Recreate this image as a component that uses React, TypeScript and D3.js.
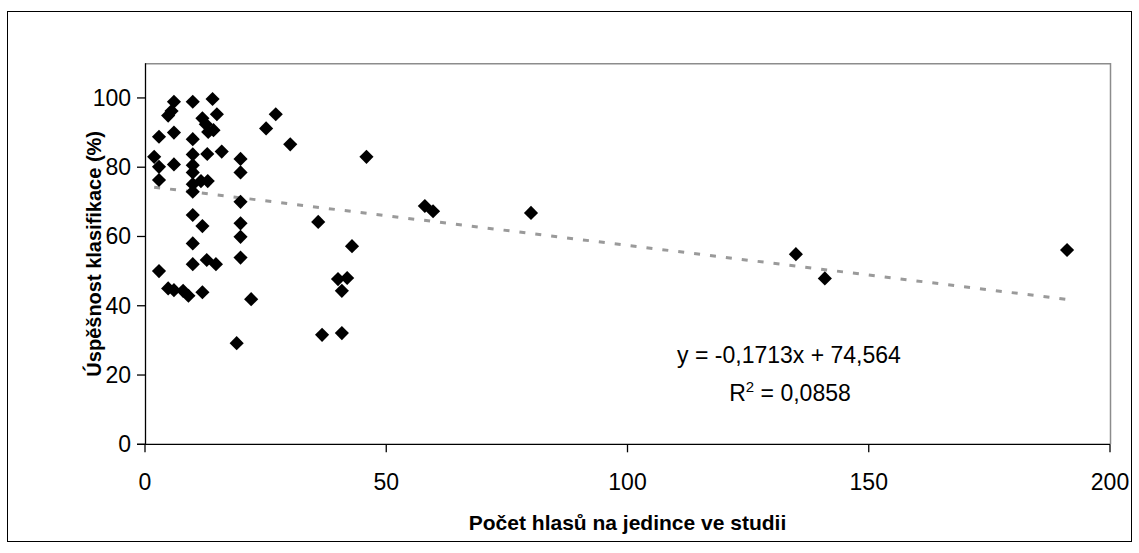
import React from "react";
import * as d3 from "d3";

// Number of calls per individual in each study (x) and classification success in % (y)
const callsPerIndividual: number[] = [
  6.0, 9.9, 14.0, 5.5, 4.8, 14.9, 11.9, 12.6, 13.1, 14.2,
  2.9, 6.0, 9.9, 25.1, 27.1, 30.1, 45.9, 12.9, 15.9, 9.9,
  1.9, 2.9, 6.0, 9.9, 19.8, 19.8, 9.9, 2.9, 11.6, 13.0,
  9.9, 9.9, 19.8, 9.9, 11.9, 19.8, 19.8, 9.9, 19.8, 9.9,
  12.8, 14.7, 2.9, 4.8, 6.0, 7.9, 9.0, 11.9, 22.0, 19.0,
  35.9, 36.7, 40.0, 40.8, 41.9, 42.9, 40.8, 58.0, 59.7, 80.0,
  134.9, 140.9, 191.1,
];
const successRate: number[] = [
  98.9, 98.9, 99.7, 96.2, 94.9, 95.3, 94.1, 92.4, 90.2, 90.7,
  88.8, 90.0, 88.1, 91.2, 95.3, 86.6, 83.0, 83.8, 84.5, 83.7,
  83.0, 80.1, 80.8, 80.6, 82.4, 78.5, 78.5, 76.3, 76.0, 76.0,
  75.1, 72.9, 70.0, 66.2, 63.0, 63.8, 59.9, 58.0, 53.9, 52.0,
  53.2, 52.0, 50.0, 45.0, 44.5, 44.3, 42.9, 43.9, 41.9, 29.2,
  64.2, 31.6, 47.7, 44.3, 48.0, 57.2, 32.1, 68.8, 67.3, 66.8,
  54.9, 47.9, 56.1,
];

// Linear trendline coefficients
const slope = -0.1713;
const intercept = 74.564;
const equationLabel = "y = -0,1713x + 74,564";
const r2Value = "0,0858";

const xTicks: number[] = [0, 50, 100, 150, 200];
const yTicks: number[] = [0, 20, 40, 60, 80, 100];

const xTitle = "Počet hlasů na jedince ve studii";
const yTitle = "Úspěšnost klasifikace (%)";

const W = 1139;
const H = 553;
const FONT = "'Liberation Sans', Arial, sans-serif";

export default function App() {
  const x = d3.scaleLinear().domain([0, 200]).range([145, 1110]);
  const y = d3.scaleLinear().domain([0, 110]).range([444.3, 63.3]);

  const points = callsPerIndividual.map((cx, i) => ({ cx, cy: successRate[i] }));
  const xMin = d3.min(callsPerIndividual) as number;
  const xMax = d3.max(callsPerIndividual) as number;
  const trend = d3
    .line<number>()
    .x((d) => x(d))
    .y((d) => y(slope * d + intercept))([xMin, xMax]);

  const marker = d3.symbol().type(d3.symbolSquare).size(100)() as string;

  const [x0, x1] = x.range();
  const [y0, y1] = y.range();

  return (
    <svg
      width={W}
      height={H}
      style={{ position: "absolute", left: 0, top: 0, background: "#fff" }}
      fontFamily={FONT}
    >
      <rect x={7.5} y={11.5} width={1124} height={530} fill="#fff" stroke="#000" strokeWidth={1} />

      {/* plot frame: grey top and right edges */}
      <path
        d={`M${x0},${y1 + 0.5}H${x1 + 0.5}V${y0}`}
        fill="none"
        stroke="#8c8c8c"
        strokeWidth={1.5}
      />

      {/* trendline */}
      <path
        d={trend ?? ""}
        fill="none"
        stroke="#9a9a9a"
        strokeWidth={3}
        strokeDasharray="6 10"
      />

      {/* markers */}
      {points.map((p, i) => (
        <path
          key={i}
          d={marker}
          transform={`translate(${x(p.cx)},${y(p.cy)}) rotate(45)`}
          fill="#000"
        />
      ))}

      {/* y axis */}
      <line x1={x0 + 0.5} x2={x0 + 0.5} y1={y1} y2={y0} stroke="#000" strokeWidth={1.3} />
      {yTicks.map((t) => (
        <g key={t}>
          <line x1={x0 - 8} x2={x0} y1={y(t)} y2={y(t)} stroke="#000" strokeWidth={1.3} />
          <text x={x0 - 14} y={y(t) + 8} textAnchor="end" fontSize={23} fill="#000">
            {t}
          </text>
        </g>
      ))}

      {/* x axis */}
      <line x1={x0 - 8} x2={x1} y1={y0} y2={y0} stroke="#000" strokeWidth={1.3} />
      {xTicks.map((t) => (
        <g key={t}>
          <line x1={x(t)} x2={x(t)} y1={y0} y2={y0 + 8} stroke="#000" strokeWidth={1.3} />
          <text x={x(t)} y={y0 + 46} textAnchor="middle" fontSize={23} fill="#000">
            {t}
          </text>
        </g>
      ))}

      {/* axis titles */}
      <text
        x={(x0 + x1) / 2}
        y={530}
        textAnchor="middle"
        fontSize={21}
        fontWeight="bold"
        fill="#000"
      >
        {xTitle}
      </text>
      <text
        transform={`translate(101,${(y0 + y1) / 2}) rotate(-90)`}
        textAnchor="middle"
        fontSize={20}
        fontWeight="bold"
        fill="#000"
      >
        {yTitle}
      </text>

      {/* regression equation */}
      <text x={789} y={363} textAnchor="middle" fontSize={23} fill="#000">
        {equationLabel}
      </text>
      <text x={790} y={401} textAnchor="middle" fontSize={23} fill="#000">
        R<tspan dy={-9} fontSize={15}>2</tspan>
        <tspan dy={9}> = {r2Value}</tspan>
      </text>
    </svg>
  );
}
